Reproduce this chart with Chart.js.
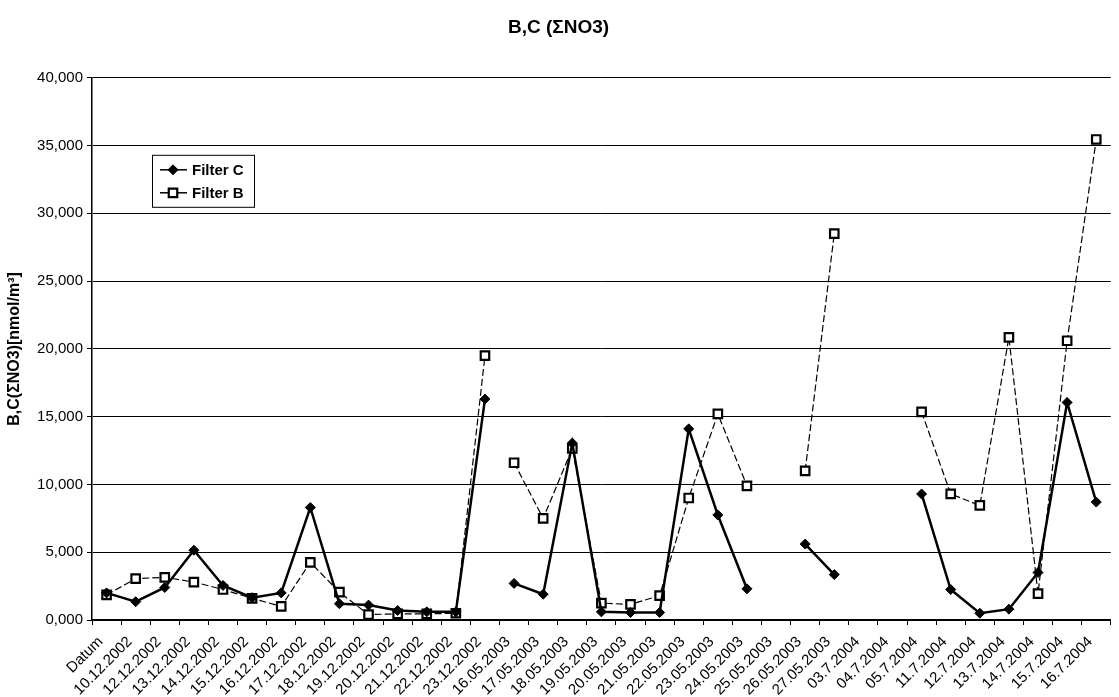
<!DOCTYPE html>
<html>
<head>
<meta charset="utf-8">
<script src="https://cdn.jsdelivr.net/npm/chart.js@4"></script>
<style>
  body { margin: 0; background: #fff; }
</style>
</head>
<body>
<canvas id="myChart" width="1119" height="697"></canvas>
<script>
// Categorías del eje X (tal como aparecen en el original)
const fechas = ['Datum', '10.12.2002', '12.12.2002', '13.12.2002', '14.12.2002', '15.12.2002',
  '16.12.2002', '17.12.2002', '18.12.2002', '19.12.2002', '20.12.2002', '21.12.2002',
  '22.12.2002', '23.12.2002', '16.05.2003', '17.05.2003', '18.05.2003', '19.05.2003',
  '20.05.2003', '21.05.2003', '22.05.2003', '23.05.2003', '24.05.2003', '25.05.2003',
  '26.05.2003', '27.05.2003', '03.7.2004', '04.7.2004', '05.7.2004', '11.7.2004',
  '12.7.2004', '13.7.2004', '14.7.2004', '15.7.2004', '16.7.2004'];

// Valores (null = sin dato)
const filterC = [2.0, 1.35, 2.4, 5.15, 2.55, 1.65, 2.0, 8.3, 1.2, 1.1, 0.7, 0.6,
  0.6, 16.3, 2.7, 1.9, 13.05, 0.6, 0.55, 0.55, 14.1, 7.75, 2.3, null,
  5.6, 3.35, null, null, 9.3, 2.25, 0.5, 0.8, 3.5, 16.05, 8.7];
const filterB = [1.85, 3.05, 3.15, 2.8, 2.25, 1.6, 1.0, 4.25, 2.05, 0.4, 0.45, 0.45,
  0.5, 19.5, 11.6, 7.5, 12.65, 1.25, 1.15, 1.8, 9.0, 15.2, 9.9, null,
  11.0, 28.5, null, null, 15.35, 9.3, 8.45, 20.85, 1.95, 20.6, 35.45];

// la línea se corta después de estos índices
const cortes = [13];

const yMax = 40;
const yPaso = 5;

const fuente = '"Liberation Sans", Arial, sans-serif';

const segmento = {
  borderColor: ctx => cortes.includes(ctx.p0DataIndex) ? 'rgba(0,0,0,0)' : undefined
};

// Leyenda dentro del área del gráfico
const leyendaPlugin = {
  id: 'leyenda',
  afterDraw(chart) {
    const { ctx, chartArea } = chart;
    const x = chartArea.left + 60;
    const y = chartArea.top + 77;
    const w = 102, h = 52;
    ctx.save();
    ctx.fillStyle = '#fff';
    ctx.fillRect(x, y, w, h);
    ctx.strokeStyle = '#000';
    ctx.lineWidth = 1;
    ctx.strokeRect(x + 0.5, y + 0.5, w, h);
    chart.data.datasets.forEach((ds, i) => {
      const cy = y + 15 + i * 23;
      ctx.beginPath();
      ctx.setLineDash([]);
      ctx.lineWidth = 1.5;
      ctx.strokeStyle = '#000';
      ctx.moveTo(x + 8, cy);
      ctx.lineTo(x + 35, cy);
      ctx.stroke();
      ctx.fillStyle = ds.pointBackgroundColor;
      ctx.strokeStyle = ds.pointBorderColor;
      ctx.lineWidth = ds.pointBorderWidth;
      Chart.helpers.drawPoint(ctx, {
        pointStyle: ds.pointStyle,
        radius: ds.pointRadius,
        borderWidth: ds.pointBorderWidth,
        rotation: 0
      }, x + 21, cy);
      ctx.fillStyle = '#000';
      ctx.font = 'bold 15px ' + fuente;
      ctx.textBaseline = 'middle';
      ctx.fillText(ds.label, x + 40, cy + 1);
    });
    ctx.restore();
  }
};

const config = {
  type: 'line',
  data: {
    labels: fechas,
    datasets: [
      {
        label: 'Filter C',
        data: filterC,
        borderColor: '#000',
        borderWidth: 2.5,
        pointStyle: 'rectRot',
        pointRadius: 5,
        pointBackgroundColor: '#000',
        pointBorderColor: '#000',
        pointBorderWidth: 1,
        segment: segmento
      },
      {
        label: 'Filter B',
        data: filterB,
        borderColor: '#000',
        borderWidth: 1.2,
        borderDash: [7, 3],
        pointStyle: 'rect',
        pointRadius: 6,
        pointBackgroundColor: '#fff',
        pointBorderColor: '#000',
        pointBorderWidth: 2.2,
        segment: segmento
      }
    ]
  },
  options: {
    responsive: false,
    animation: false,
    devicePixelRatio: 1,
    layout: { padding: { left: 0, right: 2, top: 0, bottom: 0 } },
    plugins: {
      legend: { display: false },
      tooltip: { enabled: false },
      title: {
        display: true,
        text: 'B,C (ΣNO3)',
        color: '#000',
        font: { family: fuente, size: 19, weight: 'bold' },
        padding: { top: 16, bottom: 39 }
      }
    },
    scales: {
      x: {
        offset: true,
        grid: {
          display: true,
          drawOnChartArea: false,
          offset: true,
          color: '#000',
          tickLength: 5
        },
        border: { color: '#000', width: 1.5 },
        ticks: {
          autoSkip: false,
          maxRotation: 45,
          minRotation: 45,
          color: '#000',
          padding: 8,
          labelOffset: -6,
          font: { family: fuente, size: 15 }
        },
        afterFit(scale) { scale.height = 77; }
      },
      y: {
        min: 0,
        max: yMax,
        grid: { color: '#000', lineWidth: 1, tickLength: 5 },
        border: { color: '#000', width: 1.5 },
        ticks: {
          stepSize: yPaso,
          color: '#000',
          padding: 4,
          font: { family: fuente, size: 15 },
          callback: v => v.toFixed(3).replace('.', ',')
        },
        title: {
          display: true,
          text: 'B,C(ΣNO3)[nmol/m³]',
          color: '#000',
          font: { family: fuente, size: 16, weight: 'bold' },
          padding: { top: 5, bottom: 0 }
        },
        afterFit(scale) { scale.width = 92; }
      }
    }
  },
  plugins: [leyendaPlugin]
};

const ctx = document.getElementById('myChart').getContext('2d');
const myChart = new Chart(ctx, config);
</script>
</body>
</html>
